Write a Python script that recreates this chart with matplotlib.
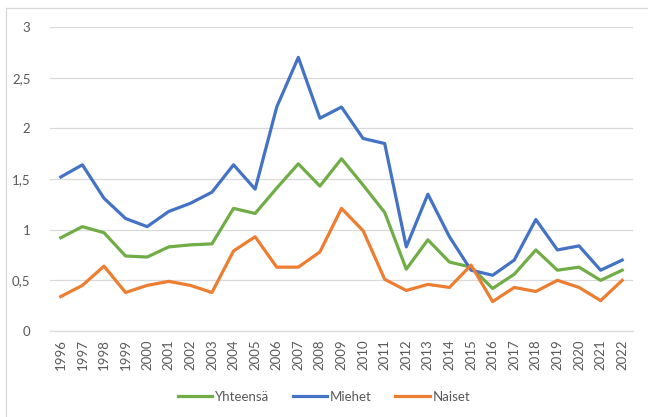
import matplotlib
matplotlib.use("Agg")
import matplotlib.pyplot as plt
from matplotlib.lines import Line2D

years = list(range(1996, 2023))
yhteensa = [0.92, 1.03, 0.97, 0.74, 0.73, 0.83, 0.85, 0.86, 1.21, 1.16, 1.41, 1.65, 1.43, 1.70,
            1.44, 1.17, 0.61, 0.90, 0.68, 0.63, 0.42, 0.56, 0.80, 0.60, 0.63, 0.50, 0.60]
miehet = [1.52, 1.64, 1.31, 1.11, 1.03, 1.18, 1.26, 1.37, 1.64, 1.40, 2.21, 2.70, 2.10, 2.21,
          1.90, 1.85, 0.83, 1.35, 0.93, 0.60, 0.55, 0.70, 1.10, 0.80, 0.84, 0.60, 0.70]
naiset = [0.34, 0.45, 0.64, 0.38, 0.45, 0.49, 0.45, 0.38, 0.79, 0.93, 0.63, 0.63, 0.78, 1.21,
          0.99, 0.51, 0.40, 0.46, 0.43, 0.65, 0.29, 0.43, 0.39, 0.50, 0.43, 0.30, 0.50]
yticks = [0, 0.5, 1, 1.5, 2, 2.5, 3]
ytick_labels = ["0", "0,5", "1", "1,5", "2", "2,5", "3"]

plt.rcParams['font.family'] = ['Lato', 'DejaVu Sans']
fig = plt.figure(figsize=(6.48, 4.17), dpi=100)
ax = fig.add_axes([50/648, 1 - 331/417, (633-50)/648, (331-27)/417])

x = list(range(len(years)))
ax.plot(x, yhteensa, color='#70AD47', lw=2.3, label='Yhteensä', solid_joinstyle='round')
ax.plot(x, miehet, color='#4472C4', lw=2.3, label='Miehet', solid_joinstyle='round')
ax.plot(x, naiset, color='#ED7D31', lw=2.3, label='Naiset', solid_joinstyle='round')

ax.set_xlim(-0.5, len(years) - 0.5)
ax.set_ylim(0, 3)
ax.set_yticks(yticks)
ax.set_yticklabels(ytick_labels)
ax.set_xticks(x)
ax.set_xticklabels([str(y) for y in years], rotation=90)
ax.grid(axis='y', color='#D9D9D9', lw=0.9)
ax.set_axisbelow(True)
for s in ['top', 'right', 'left']:
    ax.spines[s].set_visible(False)
ax.spines['bottom'].set_color('#D9D9D9')
ax.tick_params(axis='both', length=0, colors='#595959', labelsize=9.5)
ax.tick_params(axis='y', pad=14)
ax.tick_params(axis='x', pad=6)

leg = fig.legend(loc='center', bbox_to_anchor=(0.5, 1 - 397/417), ncol=3, frameon=False,
                 fontsize=9.5, handlelength=2.6, columnspacing=1.8, handletextpad=0.2)
for t in leg.get_texts():
    t.set_color('#595959')

fig.add_artist(Line2D([6/648, 1], [1 - 8/417, 1 - 8/417], color='#D9D9D9', lw=0.9))
fig.add_artist(Line2D([6/648, 6/648], [0, 1 - 8/417], color='#D9D9D9', lw=0.9))

fig.savefig('out.png', dpi=100)
